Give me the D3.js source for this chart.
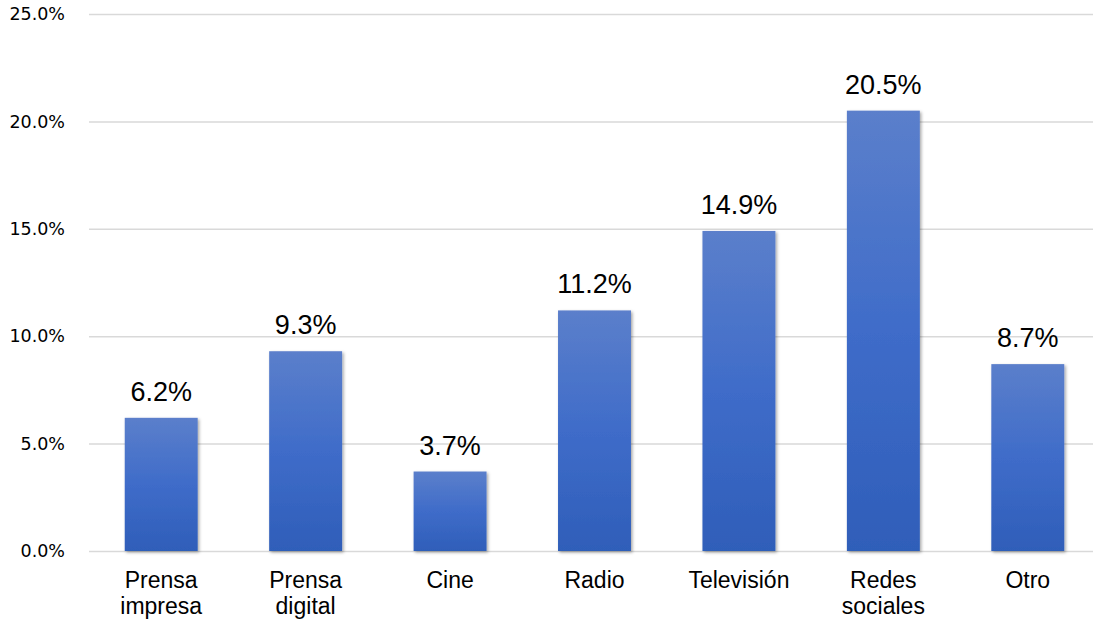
<!DOCTYPE html>
<html><head><meta charset="utf-8">
<script src="https://cdn.jsdelivr.net/npm/d3@7"></script>
<style>body{margin:0;background:#fff}svg{display:block}</style>
</head><body>
<script>
const categories = [["Prensa","impresa"],["Prensa","digital"],["Cine"],["Radio"],["Televisión"],["Redes","sociales"],["Otro"]];
const values = [6.2, 9.3, 3.7, 11.2, 14.9, 20.5, 8.7];
const yTicks = [0, 5, 10, 15, 20, 25];

const W = 1099, H = 621;
const m = {left: 89, right: 6, top: 14, bottom: 70};
const svg = d3.select("body").append("svg").attr("width", W).attr("height", H);

const x = d3.scaleBand().domain(d3.range(values.length)).range([m.left, 1100]).paddingInner(0.495).paddingOuter(0.2475);
const y = d3.scaleLinear().domain([0, 25]).range([H - m.bottom, m.top]);

const defs = svg.append("defs");
const g = defs.append("linearGradient").attr("id","bg").attr("x1",0).attr("y1",0).attr("x2",0).attr("y2",1);
g.append("stop").attr("offset","0%").attr("stop-color","#5b7fcb");
g.append("stop").attr("offset","50%").attr("stop-color","#3f6cc9");
g.append("stop").attr("offset","100%").attr("stop-color","#2f5eb9");
const f = defs.append("filter").attr("id","sh").attr("x","-20%").attr("y","-20%").attr("width","140%").attr("height","140%");
f.append("feDropShadow").attr("dx",1.5).attr("dy",1.5).attr("stdDeviation",1.5).attr("flood-color","#000").attr("flood-opacity",0.35);

// grid
const yAxis = d3.axisLeft(y).tickValues(yTicks).tickFormat(d => d.toFixed(1) + "%").tickSize(-(W - m.right - m.left)).tickPadding(24);
const ga = svg.append("g").attr("transform", `translate(${m.left},0)`).call(yAxis);
ga.select(".domain").remove();
ga.selectAll(".tick line").attr("stroke", "#d9d9d9").attr("stroke-width", 1.5);
ga.selectAll(".tick text").attr("font-family", "DejaVu Sans, Verdana, sans-serif").attr("font-size", 17.5).attr("fill", "#000");

// bars
svg.append("g").selectAll("rect").data(values).join("rect")
  .attr("x", (d,i) => x(i)).attr("width", x.bandwidth())
  .attr("y", d => y(d)).attr("height", d => y(0) - y(d))
  .attr("fill", "url(#bg)").attr("filter", "url(#sh)");

// value labels
svg.append("g").selectAll("text").data(values).join("text")
  .attr("x", (d,i) => x(i) + x.bandwidth()/2).attr("y", d => y(d) - 17)
  .attr("text-anchor", "middle").attr("font-family", "Liberation Sans, Arial, sans-serif")
  .attr("font-size", 27).attr("fill", "#000").text(d => d.toFixed(1) + "%");

// category labels
const cl = svg.append("g").selectAll("text").data(categories).join("text")
  .attr("x", (d,i) => x(i) + x.bandwidth()/2).attr("y", y(0) + 37)
  .attr("text-anchor", "middle").attr("font-family", "Liberation Sans, Arial, sans-serif")
  .attr("font-size", 23).attr("fill", "#000");
cl.each(function(d){
  const t = d3.select(this);
  d.forEach((s,j) => t.append("tspan").attr("x", t.attr("x")).attr("dy", j ? 26 : 0).text(s));
});
</script>
</body></html>
